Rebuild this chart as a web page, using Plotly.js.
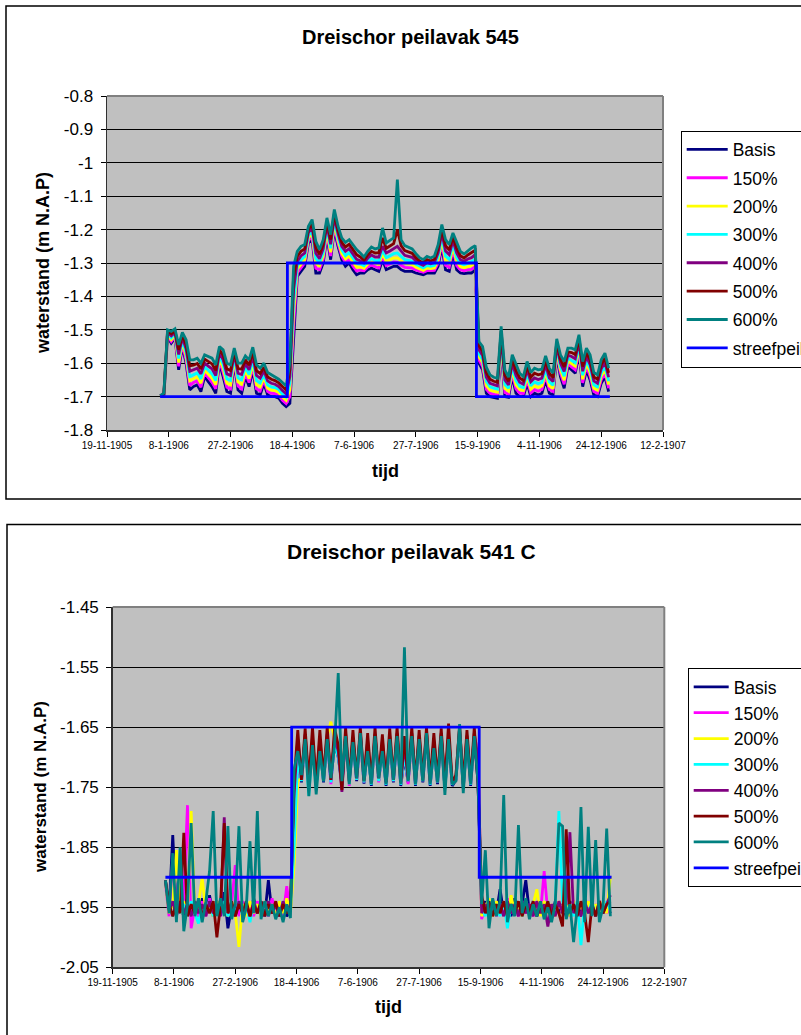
<!DOCTYPE html>
<html>
<head>
<meta charset="utf-8">
<script src="https://cdn.plot.ly/plotly-3.0.1.min.js"></script>
<style>
  html, body { margin: 0; padding: 0; background: #ffffff; }
  #grafiek { width: 801px; height: 1035px; }
</style>
</head>
<body>
<div id="grafiek"></div>
<script>
// Meetdagen (om de drie dagen) in 1906
const datums = [
  '1906-01-01','1906-01-04','1906-01-07','1906-01-10','1906-01-13','1906-01-16','1906-01-19','1906-01-22','1906-01-25','1906-01-28','1906-01-31',
  '1906-02-03','1906-02-06','1906-02-09','1906-02-12','1906-02-15','1906-02-18','1906-02-21','1906-02-24','1906-02-27',
  '1906-03-02','1906-03-05','1906-03-08','1906-03-11','1906-03-14','1906-03-17','1906-03-20','1906-03-23','1906-03-26','1906-03-29',
  '1906-04-01','1906-04-04','1906-04-07','1906-04-10','1906-04-13','1906-04-16','1906-04-19','1906-04-22','1906-04-25','1906-04-28',
  '1906-05-01','1906-05-04','1906-05-07','1906-05-10','1906-05-13','1906-05-16','1906-05-19','1906-05-22','1906-05-25','1906-05-28','1906-05-31',
  '1906-06-03','1906-06-06','1906-06-09','1906-06-12','1906-06-15','1906-06-18','1906-06-21','1906-06-24','1906-06-27','1906-06-30',
  '1906-07-03','1906-07-06','1906-07-09','1906-07-12','1906-07-15','1906-07-18','1906-07-21','1906-07-24','1906-07-27','1906-07-30',
  '1906-08-02','1906-08-05','1906-08-08','1906-08-11','1906-08-14','1906-08-17','1906-08-20','1906-08-23','1906-08-26','1906-08-29',
  '1906-09-01','1906-09-04','1906-09-07','1906-09-10','1906-09-13','1906-09-16','1906-09-19','1906-09-22','1906-09-25','1906-09-28',
  '1906-10-01','1906-10-04','1906-10-07','1906-10-10','1906-10-13','1906-10-16','1906-10-19','1906-10-22','1906-10-25','1906-10-28','1906-10-31',
  '1906-11-03','1906-11-06','1906-11-09','1906-11-12','1906-11-15','1906-11-18','1906-11-21','1906-11-24','1906-11-27','1906-11-30',
  '1906-12-03','1906-12-06','1906-12-09','1906-12-12','1906-12-15','1906-12-18','1906-12-21','1906-12-24','1906-12-27','1906-12-30'
];

// ---------- Peilvak 545: waterstand (m N.A.P) ----------
const basis545 = [
  -1.700,-1.700,-1.520,-1.540,-1.525,-1.620,-1.550,-1.600,-1.680,-1.670,-1.665,
  -1.685,-1.640,-1.655,-1.670,-1.690,-1.600,-1.640,-1.685,-1.690,
  -1.600,-1.680,-1.690,-1.640,-1.670,-1.620,-1.690,-1.695,-1.660,-1.695,
  -1.700,-1.700,-1.705,-1.720,-1.730,-1.720,-1.520,-1.340,-1.325,-1.310,
  -1.240,-1.230,-1.330,-1.330,-1.300,-1.220,-1.290,-1.200,-1.250,-1.290,-1.310,
  -1.300,-1.320,-1.335,-1.330,-1.330,-1.320,-1.315,-1.320,-1.325,-1.290,
  -1.320,-1.315,-1.310,-1.310,-1.320,-1.325,-1.325,-1.325,-1.330,-1.332,
  -1.335,-1.330,-1.330,-1.330,-1.310,-1.250,-1.320,-1.325,-1.270,-1.320,
  -1.330,-1.332,-1.330,-1.330,-1.320,-1.600,-1.620,-1.690,-1.700,-1.702,
  -1.705,-1.560,-1.700,-1.702,-1.640,-1.690,-1.700,-1.700,-1.660,-1.700,-1.690,
  -1.695,-1.690,-1.650,-1.690,-1.695,-1.580,-1.640,-1.675,-1.610,-1.620,
  -1.630,-1.570,-1.670,-1.620,-1.650,-1.695,-1.700,-1.660,-1.640,-1.685
];
const p150_545 = [
  -1.700,-1.699,-1.517,-1.535,-1.521,-1.609,-1.544,-1.590,-1.667,-1.658,-1.653,
  -1.672,-1.630,-1.644,-1.657,-1.677,-1.593,-1.628,-1.672,-1.677,
  -1.593,-1.668,-1.677,-1.631,-1.658,-1.610,-1.677,-1.683,-1.651,-1.685,
  -1.690,-1.691,-1.696,-1.711,-1.721,-1.700,-1.490,-1.330,-1.314,-1.300,
  -1.233,-1.221,-1.316,-1.320,-1.290,-1.212,-1.279,-1.191,-1.241,-1.280,-1.299,
  -1.290,-1.309,-1.324,-1.321,-1.323,-1.312,-1.306,-1.311,-1.315,-1.281,
  -1.308,-1.303,-1.297,-1.298,-1.307,-1.313,-1.314,-1.315,-1.321,-1.325,
  -1.328,-1.323,-1.323,-1.322,-1.300,-1.240,-1.307,-1.313,-1.261,-1.308,
  -1.320,-1.323,-1.320,-1.319,-1.309,-1.590,-1.610,-1.678,-1.690,-1.693,
  -1.696,-1.550,-1.688,-1.693,-1.630,-1.677,-1.690,-1.691,-1.650,-1.689,-1.679,
  -1.684,-1.679,-1.639,-1.679,-1.685,-1.572,-1.630,-1.663,-1.602,-1.610,
  -1.620,-1.562,-1.659,-1.610,-1.639,-1.685,-1.690,-1.650,-1.630,-1.675
];
const p200_545 = [
  -1.699,-1.697,-1.514,-1.530,-1.517,-1.598,-1.537,-1.579,-1.653,-1.646,-1.641,
  -1.660,-1.621,-1.633,-1.645,-1.665,-1.585,-1.616,-1.660,-1.665,
  -1.587,-1.656,-1.663,-1.621,-1.646,-1.600,-1.665,-1.671,-1.642,-1.675,
  -1.681,-1.682,-1.688,-1.701,-1.711,-1.680,-1.450,-1.318,-1.303,-1.291,
  -1.225,-1.212,-1.302,-1.309,-1.279,-1.204,-1.268,-1.182,-1.232,-1.271,-1.288,
  -1.279,-1.298,-1.313,-1.312,-1.316,-1.304,-1.296,-1.301,-1.304,-1.272,
  -1.296,-1.290,-1.285,-1.285,-1.293,-1.302,-1.303,-1.305,-1.313,-1.318,
  -1.322,-1.315,-1.317,-1.315,-1.291,-1.231,-1.293,-1.301,-1.252,-1.296,
  -1.311,-1.314,-1.310,-1.308,-1.298,-1.581,-1.599,-1.667,-1.681,-1.684,
  -1.687,-1.540,-1.676,-1.684,-1.621,-1.665,-1.679,-1.682,-1.641,-1.678,-1.668,
  -1.673,-1.668,-1.628,-1.668,-1.676,-1.564,-1.621,-1.651,-1.594,-1.601,
  -1.609,-1.554,-1.648,-1.601,-1.628,-1.675,-1.681,-1.639,-1.619,-1.664
];
const p300_545 = [
  -1.699,-1.696,-1.511,-1.524,-1.512,-1.586,-1.531,-1.569,-1.640,-1.634,-1.629,
  -1.647,-1.611,-1.621,-1.632,-1.652,-1.578,-1.604,-1.647,-1.652,
  -1.580,-1.644,-1.650,-1.612,-1.634,-1.589,-1.652,-1.659,-1.633,-1.665,
  -1.671,-1.673,-1.679,-1.692,-1.702,-1.660,-1.420,-1.310,-1.291,-1.281,
  -1.218,-1.203,-1.287,-1.299,-1.269,-1.195,-1.256,-1.173,-1.223,-1.261,-1.278,
  -1.269,-1.286,-1.301,-1.303,-1.308,-1.295,-1.287,-1.292,-1.294,-1.262,
  -1.284,-1.278,-1.272,-1.270,-1.280,-1.290,-1.292,-1.295,-1.304,-1.310,
  -1.315,-1.308,-1.310,-1.307,-1.281,-1.221,-1.280,-1.289,-1.243,-1.284,
  -1.301,-1.305,-1.300,-1.296,-1.288,-1.571,-1.589,-1.655,-1.671,-1.675,
  -1.678,-1.529,-1.664,-1.675,-1.611,-1.652,-1.669,-1.673,-1.631,-1.668,-1.656,
  -1.661,-1.658,-1.618,-1.656,-1.666,-1.556,-1.611,-1.639,-1.585,-1.591,
  -1.599,-1.545,-1.636,-1.591,-1.616,-1.665,-1.671,-1.629,-1.609,-1.654
];
const p400_545 = [
  -1.698,-1.694,-1.508,-1.518,-1.508,-1.574,-1.524,-1.557,-1.624,-1.620,-1.615,
  -1.632,-1.600,-1.609,-1.617,-1.637,-1.569,-1.590,-1.632,-1.637,
  -1.572,-1.630,-1.634,-1.602,-1.620,-1.578,-1.637,-1.645,-1.623,-1.653,
  -1.660,-1.663,-1.670,-1.682,-1.692,-1.640,-1.380,-1.295,-1.279,-1.270,
  -1.209,-1.193,-1.271,-1.287,-1.257,-1.186,-1.244,-1.163,-1.213,-1.250,-1.265,
  -1.257,-1.274,-1.289,-1.293,-1.300,-1.286,-1.276,-1.282,-1.282,-1.250,
  -1.270,-1.264,-1.257,-1.250,-1.264,-1.277,-1.280,-1.283,-1.294,-1.302,
  -1.307,-1.299,-1.302,-1.298,-1.270,-1.210,-1.264,-1.275,-1.233,-1.270,
  -1.290,-1.295,-1.288,-1.284,-1.275,-1.560,-1.577,-1.642,-1.660,-1.665,
  -1.668,-1.517,-1.650,-1.665,-1.600,-1.637,-1.657,-1.663,-1.620,-1.655,-1.644,
  -1.649,-1.645,-1.605,-1.644,-1.655,-1.547,-1.600,-1.625,-1.576,-1.580,
  -1.587,-1.536,-1.624,-1.580,-1.604,-1.653,-1.660,-1.617,-1.597,-1.642
];
const p500_545 = [
  -1.698,-1.692,-1.504,-1.512,-1.503,-1.560,-1.516,-1.544,-1.608,-1.606,-1.601,
  -1.617,-1.588,-1.595,-1.602,-1.622,-1.560,-1.576,-1.617,-1.622,
  -1.564,-1.616,-1.618,-1.590,-1.606,-1.566,-1.622,-1.631,-1.612,-1.641,
  -1.648,-1.652,-1.659,-1.670,-1.680,-1.620,-1.340,-1.280,-1.265,-1.258,
  -1.200,-1.182,-1.254,-1.274,-1.244,-1.176,-1.230,-1.152,-1.202,-1.238,-1.252,
  -1.244,-1.260,-1.275,-1.282,-1.292,-1.276,-1.265,-1.270,-1.269,-1.225,
  -1.256,-1.249,-1.242,-1.200,-1.248,-1.263,-1.267,-1.271,-1.284,-1.294,
  -1.299,-1.290,-1.294,-1.289,-1.258,-1.198,-1.248,-1.261,-1.222,-1.256,
  -1.278,-1.285,-1.276,-1.270,-1.262,-1.548,-1.564,-1.628,-1.648,-1.654,
  -1.657,-1.504,-1.636,-1.654,-1.588,-1.622,-1.644,-1.652,-1.608,-1.642,-1.630,
  -1.635,-1.632,-1.592,-1.630,-1.643,-1.538,-1.588,-1.611,-1.566,-1.568,
  -1.574,-1.526,-1.610,-1.568,-1.590,-1.641,-1.648,-1.604,-1.584,-1.629
];
const p600_545 = [
  -1.697,-1.690,-1.500,-1.505,-1.497,-1.545,-1.508,-1.530,-1.590,-1.590,-1.585,
  -1.600,-1.575,-1.580,-1.585,-1.605,-1.550,-1.560,-1.600,-1.605,
  -1.555,-1.600,-1.600,-1.578,-1.590,-1.552,-1.605,-1.615,-1.600,-1.628,
  -1.635,-1.640,-1.648,-1.658,-1.668,-1.600,-1.310,-1.265,-1.250,-1.245,
  -1.190,-1.170,-1.235,-1.260,-1.230,-1.165,-1.215,-1.140,-1.190,-1.225,-1.238,
  -1.230,-1.245,-1.260,-1.270,-1.282,-1.265,-1.252,-1.258,-1.255,-1.195,
  -1.240,-1.232,-1.225,-1.050,-1.230,-1.248,-1.252,-1.258,-1.272,-1.284,
  -1.290,-1.280,-1.285,-1.279,-1.245,-1.185,-1.230,-1.245,-1.210,-1.240,
  -1.265,-1.273,-1.263,-1.255,-1.248,-1.535,-1.550,-1.612,-1.635,-1.642,
  -1.645,-1.490,-1.620,-1.642,-1.575,-1.605,-1.630,-1.640,-1.595,-1.628,-1.615,
  -1.620,-1.618,-1.578,-1.615,-1.630,-1.527,-1.575,-1.595,-1.555,-1.555,
  -1.560,-1.515,-1.595,-1.555,-1.575,-1.628,-1.635,-1.590,-1.570,-1.615
];

// ---------- Peilvak 541 C: waterstand (m N.A.P) ----------
const basis541C = [
  -1.905,-1.955,-1.830,-1.960,-1.945,-1.965,-1.930,-1.960,-1.940,-1.965,-1.935,
  -1.960,-1.930,-1.965,-1.940,-1.960,-1.925,-1.985,-1.950,-1.965,
  -1.940,-1.965,-1.945,-1.965,-1.935,-1.960,-1.940,-1.965,-1.905,-1.960,
  -1.945,-1.965,-1.950,-1.965,-1.955,-1.820,-1.700,-1.742,-1.672,-1.748,
  -1.675,-1.748,-1.680,-1.742,-1.672,-1.740,-1.678,-1.700,-1.745,-1.668,-1.742,
  -1.676,-1.740,-1.665,-1.744,-1.685,-1.748,-1.670,-1.740,-1.685,-1.748,
  -1.672,-1.742,-1.668,-1.748,-1.700,-1.742,-1.668,-1.748,-1.672,-1.742,
  -1.665,-1.748,-1.682,-1.745,-1.668,-1.752,-1.672,-1.748,-1.738,-1.660,
  -1.752,-1.672,-1.748,-1.668,-1.742,-1.955,-1.940,-1.965,-1.945,-1.960,
  -1.920,-1.960,-1.945,-1.965,-1.935,-1.960,-1.945,-1.905,-1.960,-1.945,-1.965,
  -1.940,-1.960,-1.950,-1.965,-1.940,-1.960,-1.945,-1.965,-1.940,-1.960,
  -1.945,-1.965,-1.935,-1.960,-1.945,-1.965,-1.940,-1.960,-1.945,-1.960
];
const p150_541C = [
  -1.910,-1.965,-1.870,-1.950,-1.960,-1.935,-1.780,-1.985,-1.950,-1.965,-1.940,
  -1.965,-1.935,-1.960,-1.945,-1.965,-1.940,-1.960,-1.945,-1.880,
  -1.965,-1.940,-1.960,-1.945,-1.965,-1.940,-1.960,-1.945,-1.965,-1.935,
  -1.960,-1.945,-1.965,-1.915,-1.960,-1.800,-1.710,-1.738,-1.668,-1.752,
  -1.672,-1.745,-1.676,-1.738,-1.668,-1.745,-1.672,-1.695,-1.740,-1.665,-1.748,
  -1.672,-1.738,-1.668,-1.742,-1.680,-1.745,-1.668,-1.742,-1.680,-1.745,
  -1.668,-1.740,-1.665,-1.745,-1.690,-1.745,-1.665,-1.745,-1.668,-1.740,
  -1.662,-1.745,-1.678,-1.742,-1.665,-1.748,-1.668,-1.745,-1.735,-1.655,
  -1.748,-1.668,-1.745,-1.665,-1.690,-1.970,-1.945,-1.960,-1.940,-1.965,
  -1.945,-1.960,-1.935,-1.960,-1.945,-1.965,-1.940,-1.960,-1.945,-1.965,-1.940,
  -1.960,-1.890,-1.960,-1.945,-1.965,-1.940,-1.960,-1.945,-1.965,-1.940,
  -1.960,-1.945,-1.965,-1.940,-1.960,-1.945,-1.965,-1.940,-1.960,-1.950
];
const p200_541C = [
  -1.908,-1.960,-1.945,-1.855,-1.960,-1.940,-1.965,-1.790,-1.960,-1.945,-1.900,
  -1.960,-1.945,-1.965,-1.940,-1.960,-1.945,-1.965,-1.940,-1.960,
  -2.016,-1.945,-1.965,-1.940,-1.960,-1.945,-1.965,-1.940,-1.960,-1.945,
  -1.965,-1.940,-1.960,-1.935,-1.960,-1.880,-1.740,-1.735,-1.665,-1.745,
  -1.670,-1.742,-1.672,-1.735,-1.665,-1.641,-1.670,-1.690,-1.738,-1.662,-1.745,
  -1.668,-1.735,-1.662,-1.740,-1.675,-1.742,-1.665,-1.738,-1.675,-1.742,
  -1.665,-1.735,-1.662,-1.742,-1.680,-1.738,-1.662,-1.742,-1.665,-1.738,
  -1.660,-1.742,-1.675,-1.740,-1.662,-1.745,-1.665,-1.742,-1.732,-1.652,
  -1.745,-1.665,-1.742,-1.662,-1.700,-1.965,-1.950,-1.935,-1.965,-1.940,
  -1.960,-1.945,-1.965,-1.930,-1.960,-1.945,-1.965,-1.940,-1.960,-1.945,-1.920,
  -1.965,-1.940,-1.960,-1.945,-1.965,-1.940,-1.960,-1.945,-1.965,-1.940,
  -1.960,-1.945,-1.965,-1.940,-1.960,-1.945,-1.965,-1.940,-1.960,-1.900
];
const p300_541C = [
  -1.905,-1.950,-1.965,-1.940,-1.960,-1.945,-1.965,-1.940,-1.960,-1.977,-1.945,
  -1.960,-1.940,-1.965,-1.945,-1.960,-1.940,-1.965,-1.945,-1.960,
  -1.940,-1.965,-1.945,-1.975,-1.940,-1.960,-1.945,-1.965,-1.940,-1.960,
  -1.945,-1.965,-1.940,-1.960,-1.950,-1.850,-1.700,-1.740,-1.668,-1.764,
  -1.674,-1.750,-1.678,-1.740,-1.670,-1.742,-1.676,-1.700,-1.742,-1.666,-1.745,
  -1.674,-1.738,-1.664,-1.742,-1.682,-1.746,-1.668,-1.740,-1.682,-1.746,
  -1.670,-1.740,-1.666,-1.746,-1.695,-1.740,-1.666,-1.746,-1.670,-1.740,
  -1.664,-1.746,-1.680,-1.742,-1.666,-1.750,-1.670,-1.746,-1.736,-1.658,
  -1.750,-1.670,-1.746,-1.666,-1.720,-1.950,-1.965,-1.940,-1.960,-1.945,
  -1.965,-1.940,-1.985,-1.945,-1.960,-1.940,-1.965,-1.945,-1.960,-1.940,-1.965,
  -1.945,-1.960,-1.940,-1.965,-1.945,-1.790,-1.940,-1.960,-1.945,-1.965,
  -1.940,-2.013,-1.945,-1.960,-1.940,-1.965,-1.945,-1.960,-1.940,-1.955
];
const p400_541C = [
  -1.905,-1.955,-1.940,-1.965,-1.940,-1.960,-1.945,-1.965,-1.940,-1.960,-1.945,
  -1.965,-1.940,-1.960,-1.945,-1.965,-1.800,-1.960,-1.945,-1.965,
  -1.940,-1.960,-1.945,-1.965,-1.940,-1.960,-1.945,-1.965,-1.940,-1.960,
  -1.945,-1.965,-1.940,-1.960,-1.945,-1.760,-1.670,-1.735,-1.662,-1.745,
  -1.668,-1.745,-1.670,-1.735,-1.662,-1.738,-1.668,-1.690,-1.758,-1.660,-1.740,
  -1.668,-1.735,-1.658,-1.738,-1.672,-1.742,-1.662,-1.735,-1.672,-1.742,
  -1.664,-1.735,-1.660,-1.742,-1.680,-1.735,-1.660,-1.742,-1.664,-1.735,
  -1.658,-1.742,-1.672,-1.738,-1.660,-1.745,-1.664,-1.742,-1.732,-1.650,
  -1.745,-1.664,-1.742,-1.660,-1.700,-1.960,-1.945,-1.965,-1.940,-1.960,
  -1.945,-1.965,-1.940,-1.960,-1.945,-1.965,-1.940,-1.960,-1.945,-1.965,-1.940,
  -1.960,-1.945,-1.982,-1.945,-1.965,-1.940,-1.960,-1.945,-1.825,-1.960,
  -1.945,-1.965,-1.940,-1.960,-1.945,-1.965,-1.940,-1.960,-1.945,-1.930
];
const p500_541C = [
  -1.905,-1.945,-1.965,-1.945,-1.960,-1.826,-1.965,-1.945,-1.960,-1.940,-1.965,
  -1.945,-1.960,-1.940,-2.000,-1.945,-1.810,-1.960,-1.940,-1.965,
  -1.945,-1.960,-1.940,-1.965,-1.945,-1.960,-1.940,-1.965,-1.945,-1.960,
  -1.940,-1.965,-1.945,-1.960,-1.950,-1.740,-1.655,-1.738,-1.652,-1.742,
  -1.650,-1.745,-1.655,-1.735,-1.650,-1.738,-1.652,-1.680,-1.755,-1.650,-1.740,
  -1.655,-1.735,-1.650,-1.740,-1.660,-1.742,-1.650,-1.735,-1.662,-1.742,
  -1.652,-1.738,-1.650,-1.742,-1.665,-1.738,-1.650,-1.742,-1.655,-1.738,
  -1.650,-1.740,-1.660,-1.738,-1.652,-1.745,-1.644,-1.742,-1.730,-1.648,
  -1.745,-1.655,-1.740,-1.650,-1.745,-1.930,-1.960,-1.940,-1.965,-1.945,
  -1.960,-1.940,-1.965,-1.945,-1.960,-1.940,-1.965,-1.945,-1.960,-1.940,-1.965,
  -1.945,-1.960,-1.940,-1.965,-1.945,-1.960,-1.982,-1.820,-1.960,-1.945,
  -1.965,-1.940,-1.960,-2.008,-1.945,-1.965,-1.940,-1.960,-1.945,-1.940
];
const p600_541C = [
  -1.905,-1.960,-1.860,-1.975,-1.850,-1.990,-1.945,-1.810,-1.965,-1.935,-1.975,
  -1.940,-1.890,-1.790,-1.965,-1.935,-1.965,-1.815,-1.970,-1.945,
  -1.815,-1.975,-1.950,-1.840,-1.960,-1.790,-1.970,-1.940,-1.965,-1.945,
  -1.970,-1.950,-1.975,-1.945,-1.968,-1.720,-1.690,-1.730,-1.670,-1.765,
  -1.680,-1.762,-1.690,-1.740,-1.670,-1.735,-1.680,-1.560,-1.740,-1.665,-1.745,
  -1.675,-1.735,-1.660,-1.740,-1.690,-1.745,-1.665,-1.735,-1.690,-1.745,
  -1.670,-1.738,-1.665,-1.745,-1.517,-1.740,-1.665,-1.745,-1.670,-1.740,
  -1.660,-1.745,-1.685,-1.742,-1.665,-1.763,-1.670,-1.745,-1.740,-1.645,
  -1.760,-1.670,-1.745,-1.665,-1.740,-1.945,-1.855,-1.985,-1.935,-1.965,
  -1.940,-1.763,-1.975,-1.945,-1.965,-1.813,-1.960,-1.935,-1.970,-1.945,-1.965,
  -1.940,-1.970,-1.950,-1.975,-1.945,-1.810,-1.815,-1.970,-1.945,-2.008,
  -1.950,-1.783,-1.975,-1.816,-1.965,-1.838,-1.975,-1.950,-1.819,-1.965
];

// Streefpeil (zomer- en winterpeil)
const streefDatums = ['1906-01-01','1906-04-14','1906-04-14','1906-09-14','1906-09-14','1906-12-31'];
const streef545 = [-1.70,-1.70,-1.30,-1.30,-1.70,-1.70];
const streef541C = [-1.90,-1.90,-1.65,-1.65,-1.90,-1.90];

// As-indeling
const tickDatums = ['1905-11-19','1906-01-08','1906-02-27','1906-04-18','1906-06-07','1906-07-27','1906-09-15','1906-11-04','1906-12-24','1907-02-12'];
const tickLabels = ['19-11-1905','8-1-1906','27-2-1906','18-4-1906','7-6-1906','27-7-1906','15-9-1906','4-11-1906','24-12-1906','12-2-1907'];
const yTicks545 = [-1.8,-1.7,-1.6,-1.5,-1.4,-1.3,-1.2,-1.1,-1.0,-0.9,-0.8];
const yLabels545 = ['-1.8','-1.7','-1.6','-1.5','-1.4','-1.3','-1.2','-1.1','-1','-0.9','-0.8'];
const yTicks541C = [-2.05,-1.95,-1.85,-1.75,-1.65,-1.55,-1.45];
const yLabels541C = ['-2.05','-1.95','-1.85','-1.75','-1.65','-1.55','-1.45'];

const reeksNamen = ['Basis','150%','200%','300%','400%','500%','600%','streefpeil'];
const kleuren = ['#000080','#FF00FF','#FFFF00','#00FFFF','#800080','#800000','#008080','#0000FF'];

const FONT = 'Arial, "Liberation Sans", sans-serif';
const W = 801, H = 1035;
const px = v => v / W;          // horizontale pixelpositie -> paper
const py = v => 1 - v / H;      // verticale pixelpositie -> paper

function maakReeksen(waarden, streef, xa, ya, leg) {
  const sporen = waarden.map((y, i) => ({
    type: 'scatter', mode: 'lines', x: datums, y: y,
    name: reeksNamen[i], legendgroup: leg + i, legend: leg,
    line: { color: kleuren[i], width: 2.8 },
    xaxis: xa, yaxis: ya, hoverinfo: 'skip'
  }));
  sporen.push({
    type: 'scatter', mode: 'lines', x: streefDatums, y: streef,
    name: reeksNamen[7], legendgroup: leg + 7, legend: leg,
    line: { color: kleuren[7], width: 2.8 },
    xaxis: xa, yaxis: ya, hoverinfo: 'skip'
  });
  return sporen;
}

const data = [].concat(
  maakReeksen([basis545, p150_545, p200_545, p300_545, p400_545, p500_545, p600_545], streef545, 'x', 'y', 'legend'),
  maakReeksen([basis541C, p150_541C, p200_541C, p300_541C, p400_541C, p500_541C, p600_541C], streef541C, 'x2', 'y2', 'legend2')
);

function xAs(domein, anker) {
  return {
    domain: domein, anchor: anker, type: 'date',
    range: ['1905-11-19', '1907-02-12'],
    tickmode: 'array', tickvals: tickDatums, ticktext: tickLabels,
    tickfont: { family: FONT, size: 10, color: '#000' },
    ticks: 'outside', ticklen: 5, tickcolor: '#000', tickwidth: 1,
    showline: true, linecolor: '#303030', linewidth: 1.5,
    showgrid: false, zeroline: false, fixedrange: true
  };
}
function yAs(domein, anker, bereik, vals, tekst) {
  return {
    domain: domein, anchor: anker, range: bereik,
    tickmode: 'array', tickvals: vals, ticktext: tekst,
    tickfont: { family: FONT, size: 17, color: '#000' },
    ticks: 'outside', ticklen: 5, tickcolor: '#000', tickwidth: 1,
    ticklabelstandoff: 4,
    showline: true, linecolor: '#303030', linewidth: 1.5,
    showgrid: true, gridcolor: '#000', gridwidth: 1,
    zeroline: false, fixedrange: true
  };
}
function legenda(x, y, gap, breedte) {
  return {
    x: x, y: y, xanchor: 'left', yanchor: 'top',
    bgcolor: '#fff', bordercolor: '#000', borderwidth: 1,
    font: { family: FONT, size: 17.5, color: '#000' },
    itemwidth: breedte, tracegroupgap: gap, itemclick: false, itemdoubleclick: false
  };
}
function kader(x0, y0, y1) {
  return { type: 'rect', xref: 'paper', yref: 'paper', x0: px(x0), x1: 1.05, y0: y0, y1: y1,
           line: { color: '#000', width: 1.5 }, fillcolor: 'rgba(0,0,0,0)' };
}
function rand(xr, yr) {
  // grijze boven- en rechterrand van het plotvlak
  return [
    { type: 'line', xref: xr + ' domain', yref: yr + ' domain', x0: 0, x1: 1, y0: 1, y1: 1, line: { color: '#808080', width: 2 } },
    { type: 'line', xref: xr + ' domain', yref: yr + ' domain', x0: 1, x1: 1, y0: 0, y1: 1, line: { color: '#808080', width: 2 } }
  ];
}
function tekst(t, x, y, size, hoek) {
  return { text: '<b>' + t + '</b>', xref: 'paper', yref: 'paper', x: px(x), y: py(y),
           xanchor: 'center', yanchor: 'middle', showarrow: false, textangle: hoek || 0,
           font: { family: FONT, size: size, color: '#000' } };
}

const layout = {
  width: W, height: H,
  margin: { l: 0, r: 0, t: 0, b: 0, autoexpand: false },
  paper_bgcolor: '#fff', plot_bgcolor: '#C0C0C0',
  showlegend: true,
  xaxis: xAs([px(107), px(663)], 'y'),
  yaxis: yAs([py(430), py(96)], 'x', [-1.8, -0.8], yTicks545, yLabels545),
  xaxis2: xAs([px(112.7), px(664.3)], 'y2'),
  yaxis2: yAs([py(967.3), py(607)], 'x2', [-2.05, -1.45], yTicks541C, yLabels541C),
  legend: legenda(px(680.7), py(130.5), 2.6, 41),
  legend2: legenda(px(687.7), py(668), 0.1, 35),
  shapes: [kader(6, py(499), py(6)), kader(7, -0.05, py(524.5))].concat(rand('x', 'y'), rand('x2', 'y2')),
  annotations: [
    tekst('Dreischor peilavak 545', 410.5, 36.7, 20),
    tekst('waterstand (m N.A.P)', 43, 263, 18, -90),
    tekst('tijd', 385, 471, 18),
    tekst('Dreischor peilavak 541 C', 411, 551.7, 21),
    tekst('waterstand (m N.A.P)', 40, 787, 17, -90),
    tekst('tijd', 388.5, 1007, 18)
  ]
};

Plotly.newPlot('grafiek', data, layout, { displayModeBar: false, staticPlot: true });
</script>
</body>
</html>
